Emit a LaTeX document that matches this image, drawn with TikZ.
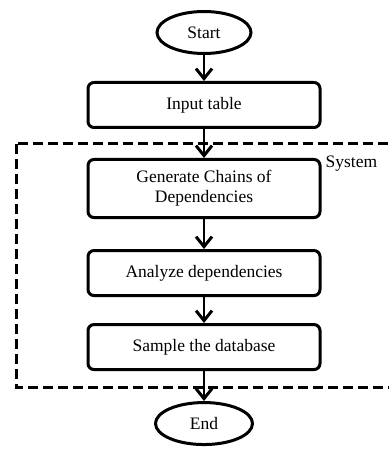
\documentclass[tikz,border=0pt]{standalone}
\usepackage{fontspec}
\setmainfont{Liberation Serif}
\usetikzlibrary{positioning, shapes.geometric, arrows.meta}

\tikzset{
  term/.style={ellipse, draw, line width=3pt, minimum width=94pt, minimum height=42pt, inner sep=0pt},
  proc/.style={rectangle, rounded corners=6pt, draw, line width=3pt, minimum width=232pt, minimum height=45pt, inner ysep=11pt, align=center},
  flow/.style={line width=1.2pt, -{Straight Barb[length=10pt, width=16pt, line width=3pt]}},
  sysframe/.style={line width=3pt, dash pattern=on 10pt off 5pt}
}

\begin{document}
\begin{tikzpicture}[x=1pt, y=1pt, font=\fontsize{17.5}{20}\selectfont]
        \useasboundingbox (0,0) rectangle (388,-449);
        \node[term] (start) at (204,-32.5) {Start};
        \node[below=26pt of start, proc] (input) {Input table};
        \node[below=29pt of input, proc] (gen) {Generate Chains of\\Dependencies};
        \node[below=30pt of gen, proc] (analyze) {Analyze dependencies};
        \node[below=26pt of analyze, proc] (sample) {Sample the database};
        \node[below=30pt of sample, term, minimum width=97pt] (end) {End};
        % system boundary, open on the right
        \coordinate (sysnw) at (16,-144);
        \coordinate (sysse) at (394,-387);
        \draw[sysframe] (sysnw) rectangle (sysse);
        \node[anchor=west, inner sep=0pt] (syslabel) at ([xshift=4pt, yshift=-6pt]gen.north east) {System};
        \draw[flow] (start) -- (input);
        \draw[flow] (input) -- (gen);
        \draw[flow] (gen) -- (analyze);
        \draw[flow] (analyze) -- (sample);
        \draw[flow] (sample) -- (end);
      \end{tikzpicture}
\end{document}
